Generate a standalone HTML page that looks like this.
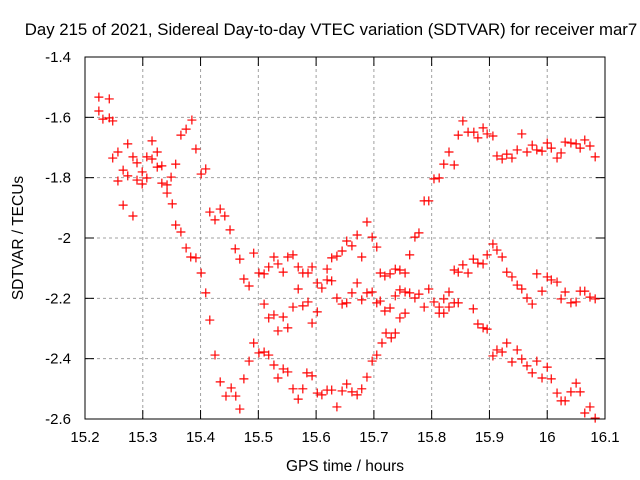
<!DOCTYPE html>
<html><head><meta charset="utf-8"><style>
body{margin:0;background:#fff;}
svg{display:block;font-family:"Liberation Sans",sans-serif;}
</style></head><body>
<svg id="chart" width="640" height="480" viewBox="0 0 640 480" xmlns="http://www.w3.org/2000/svg">
<rect width="640" height="480" fill="#fff"/>
<text x="331" y="35" font-size="16.8" text-anchor="middle">Day 215 of 2021, Sidereal Day-to-day VTEC variation (SDTVAR) for receiver mar7</text>
<text x="345" y="471" font-size="15.5" text-anchor="middle">GPS time / hours</text>
<text transform="translate(23,238) rotate(-90)" font-size="15.5" text-anchor="middle">SDTVAR / TECUs</text>
<g id="grid"></g>
<g id="ticks"></g>
<g id="marks"></g>
<rect x="85" y="57" width="520" height="362" fill="none" stroke="#000" stroke-width="1"/>
</svg>
<script>
const xTicks = [15.2,15.3,15.4,15.5,15.6,15.7,15.8,15.9,16,16.1];
const xTickLabels = ["15.2","15.3","15.4","15.5","15.6","15.7","15.8","15.9","16","16.1"];
const yTicks = [-1.4,-1.6,-1.8,-2,-2.2,-2.4,-2.6];
const yTickLabels = ["-1.4","-1.6","-1.8","-2","-2.2","-2.4","-2.6"];
const earlyPoints = [[15.224,-1.533],[15.242,-1.539],[15.224,-1.579],[15.231,-1.606],[15.242,-1.602],[15.248,-1.612],[15.274,-1.688],[15.257,-1.715],[15.248,-1.735],[15.266,-1.775],[15.257,-1.811],[15.274,-1.794],[15.283,-1.731],[15.290,-1.751],[15.299,-1.781],[15.290,-1.808],[15.299,-1.821],[15.307,-1.801],[15.307,-1.731],[15.316,-1.678],[15.325,-1.715],[15.316,-1.738],[15.325,-1.765],[15.333,-1.761],[15.333,-1.818],[15.342,-1.824],[15.342,-1.851],[15.349,-1.798],[15.357,-1.755],[15.366,-1.659],[15.375,-1.639],[15.385,-1.609],[15.392,-1.705],[15.409,-1.771],[15.401,-1.788],[15.266,-1.891],[15.283,-1.927],[15.351,-1.887],[15.357,-1.957],[15.366,-1.980],[15.375,-2.033],[15.383,-2.063],[15.392,-2.066],[15.416,-1.914],[15.434,-1.904],[15.425,-1.940],[15.442,-1.927],[15.451,-1.973],[15.460,-2.036],[15.468,-2.070],[15.492,-2.050]];
const lowerPoints = [[15.401,-2.116],[15.409,-2.182],[15.416,-2.272],[15.425,-2.388],[15.434,-2.477],[15.444,-2.524],[15.453,-2.497],[15.461,-2.524],[15.468,-2.567],[15.475,-2.467],[15.484,-2.408],[15.492,-2.348],[15.501,-2.381],[15.510,-2.378],[15.518,-2.388],[15.527,-2.421],[15.534,-2.464],[15.543,-2.434],[15.551,-2.444],[15.560,-2.500],[15.569,-2.534],[15.577,-2.500],[15.584,-2.447],[15.593,-2.457],[15.602,-2.514],[15.610,-2.520],[15.619,-2.504],[15.627,-2.504],[15.636,-2.560],[15.645,-2.507],[15.653,-2.484],[15.662,-2.510],[15.671,-2.520],[15.679,-2.500],[15.688,-2.461],[15.697,-2.408],[15.705,-2.388],[15.714,-2.348],[15.721,-2.315],[15.730,-2.331],[15.737,-2.315],[15.745,-2.265],[15.754,-2.249],[15.813,-2.249],[15.821,-2.249],[15.830,-2.229],[15.839,-2.215],[15.846,-2.215],[15.872,-2.235],[15.880,-2.285],[15.889,-2.298],[15.896,-2.302],[15.906,-2.391],[15.913,-2.371],[15.922,-2.378],[15.930,-2.348],[15.939,-2.411],[15.948,-2.371],[15.956,-2.401],[15.965,-2.424],[15.974,-2.447],[15.982,-2.408],[15.991,-2.464],[16.000,-2.428],[16.007,-2.467],[16.017,-2.514],[16.024,-2.540],[16.031,-2.540],[16.041,-2.510],[16.050,-2.481],[16.057,-2.510],[16.065,-2.580],[16.074,-2.560],[16.083,-2.597]];
const middlePoints = [[15.475,-2.136],[15.484,-2.159],[15.501,-2.116],[15.510,-2.119],[15.518,-2.096],[15.527,-2.063],[15.534,-2.086],[15.543,-2.113],[15.551,-2.063],[15.560,-2.056],[15.569,-2.096],[15.577,-2.116],[15.586,-2.116],[15.593,-2.096],[15.602,-2.149],[15.610,-2.166],[15.619,-2.103],[15.627,-2.066],[15.636,-2.060],[15.645,-2.043],[15.653,-2.010],[15.662,-2.026],[15.671,-1.990],[15.679,-2.063],[15.688,-1.947],[15.697,-1.997],[15.705,-2.030],[15.510,-2.219],[15.518,-2.265],[15.527,-2.255],[15.534,-2.308],[15.543,-2.262],[15.551,-2.298],[15.560,-2.229],[15.569,-2.169],[15.577,-2.225],[15.586,-2.212],[15.593,-2.282],[15.602,-2.245],[15.619,-2.139],[15.627,-2.142],[15.636,-2.199],[15.645,-2.219],[15.653,-2.215],[15.662,-2.182],[15.671,-2.149],[15.679,-2.205],[15.688,-2.182],[15.697,-2.179],[15.705,-2.215]];
const lateMiddlePoints = [[15.711,-2.116],[15.719,-2.126],[15.728,-2.119],[15.737,-2.103],[15.745,-2.106],[15.754,-2.116],[15.711,-2.209],[15.719,-2.242],[15.728,-2.232],[15.737,-2.192],[15.745,-2.172],[15.754,-2.179],[15.762,-2.182],[15.771,-2.199],[15.778,-2.186],[15.787,-2.229],[15.795,-2.169],[15.804,-2.212],[15.813,-2.229],[15.821,-2.202],[15.830,-2.179],[15.839,-2.106],[15.846,-2.113],[15.854,-2.089],[15.863,-2.116],[15.872,-2.070],[15.880,-2.083],[15.889,-2.086],[15.896,-2.056],[15.906,-2.020],[15.913,-2.040],[15.922,-2.063],[15.930,-2.113],[15.939,-2.129],[15.948,-2.156],[15.956,-2.169],[15.965,-2.199],[15.974,-2.219],[15.982,-2.119],[15.991,-2.176],[16.000,-2.129],[16.007,-2.139],[16.017,-2.146],[16.024,-2.202],[16.031,-2.179],[16.041,-2.215],[16.050,-2.212],[16.057,-2.176],[16.065,-2.176],[16.074,-2.196],[16.083,-2.202]];
const upperPoints = [[15.804,-1.804],[15.813,-1.801],[15.787,-1.877],[15.795,-1.877],[15.771,-1.997],[15.778,-1.983],[15.762,-2.056],[15.821,-1.755],[15.830,-1.715],[15.839,-1.758],[15.846,-1.659],[15.854,-1.612],[15.863,-1.649],[15.873,-1.649],[15.880,-1.668],[15.889,-1.635],[15.896,-1.655],[15.906,-1.662],[15.913,-1.728],[15.922,-1.738],[15.930,-1.722],[15.939,-1.735],[15.948,-1.708],[15.956,-1.655],[15.965,-1.715],[15.974,-1.692],[15.982,-1.708],[15.991,-1.712],[16.000,-1.685],[16.007,-1.702],[16.017,-1.735],[16.024,-1.718],[16.031,-1.682],[16.041,-1.685],[16.050,-1.688],[16.057,-1.702],[16.065,-1.675],[16.074,-1.695],[16.083,-1.731]];

const L=85,R=605,T=57,B=419;
function xScale(v){return L+(v-15.2)/(16.1-15.2)*(R-L);}
function yScale(v){return T+(-1.4-v)/(1.2)*(B-T);}
const NS='http://www.w3.org/2000/svg';
function mk(tag,attrs,parent){const e=document.createElementNS(NS,tag);for(const k in attrs)e.setAttribute(k,attrs[k]);parent.appendChild(e);return e;}
const grid=document.getElementById('grid'),ticks=document.getElementById('ticks'),marks=document.getElementById('marks');
xTicks.forEach((v,i)=>{
  const x=xScale(v);
  if(i>0&&i<xTicks.length-1){
    const g=mk('line',{x1:x,y1:T,x2:x,y2:B,stroke:'#a0a0a0','stroke-dasharray':'3,3'},grid);
    
    
  }
  mk('line',{x1:x,y1:B,x2:x,y2:B-9,stroke:'#000'},ticks);
  mk('line',{x1:x,y1:T,x2:x,y2:T+9,stroke:'#000'},ticks);
  const t=mk('text',{x:x,y:442,'font-size':'15','text-anchor':'middle'},ticks);
  t.textContent=xTickLabels[i];
  
  
});
yTicks.forEach((v,i)=>{
  const y=yScale(v);
  if(i>0&&i<yTicks.length-1){
    const g=mk('line',{x1:L,y1:y,x2:R,y2:y,stroke:'#a0a0a0','stroke-dasharray':'3,3'},grid);
    
    
  }
  mk('line',{x1:L,y1:y,x2:L+9,y2:y,stroke:'#000'},ticks);
  mk('line',{x1:R,y1:y,x2:R-9,y2:y,stroke:'#000'},ticks);
  const t=mk('text',{x:71,y:y+5,'font-size':'15','text-anchor':'end'},ticks);
  t.textContent=yTickLabels[i];
  
  
});
[earlyPoints,lowerPoints,middlePoints,lateMiddlePoints,upperPoints].forEach(arr=>{
  arr.forEach(p=>{
    const x=xScale(p[0]),y=yScale(p[1]);
    const m=mk('path',{d:'M'+(x-4.5)+' '+y+'H'+(x+4.5)+'M'+x+' '+(y-4.5)+'V'+(y+4.5),stroke:'#ff0000','stroke-width':'1.2',fill:'none'},marks);
    
    
  });
});
</script>
</body></html>
